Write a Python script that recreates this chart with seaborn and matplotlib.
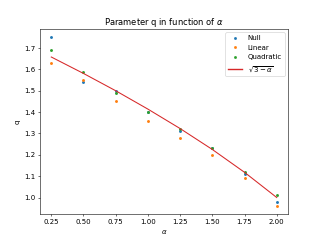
import numpy as np
import pandas as pd
import matplotlib
matplotlib.use('Agg')
import matplotlib.pyplot as plt
from matplotlib.lines import Line2D
import seaborn as sns

alphas = [0.25, 0.5, 0.75, 1.0, 1.25, 1.5, 1.75, 2.0]
q_null = [1.75, 1.54, 1.50, 1.40, 1.31, 1.23, 1.11, 0.98]
q_linear = [1.63, 1.55, 1.45, 1.36, 1.28, 1.20, 1.09, 0.96]
q_quadratic = [1.69, 1.59, 1.49, 1.40, 1.32, 1.23, 1.12, 1.01]
q_theory = [1.658, 1.581, 1.5, 1.414, 1.323, 1.225, 1.118, 1.0]

fig, ax = plt.subplots(figsize=(6.4, 4.82), dpi=50)

series = [(q_null, 'Null', 'C0'), (q_linear, 'Linear', 'C1'),
          (q_quadratic, 'Quadratic', 'C2')]
handles = []
# points for each model
for ys, lab, col in series:
    sns.scatterplot(x=alphas, y=ys, ax=ax, marker='.', s=70, linewidth=0,
                    color=col, legend=False)
    handles.append(Line2D([], [], marker='.', linestyle='', color=col, label=lab))

sns.lineplot(x=alphas, y=q_theory, ax=ax, color='#d62728', legend=False)
handles.append(Line2D([], [], color='#d62728', linewidth=2, label=r'$\sqrt{3-\alpha}$'))

ax.set_title(r'Parameter q in function of $\alpha$')
ax.set_xlabel(r'$\alpha$')
ax.set_ylabel('q')
ax.legend(handles=handles, loc='upper right')

fig.savefig('out.png', dpi=50)
